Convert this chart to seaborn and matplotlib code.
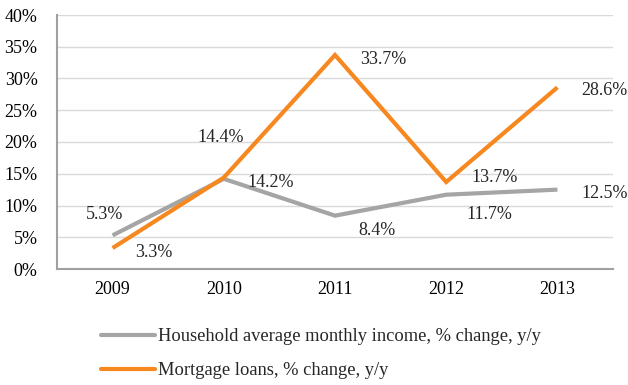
import matplotlib
matplotlib.use("Agg")
import matplotlib.pyplot as plt
import seaborn as sns
import pandas as pd
from matplotlib.ticker import FuncFormatter

years = ["2009", "2010", "2011", "2012", "2013"]
income = [5.3, 14.2, 8.4, 11.7, 12.5]
mortgage = [3.3, 14.4, 33.7, 13.7, 28.6]
income_name = "Household average monthly income, % change, y/y"
mortgage_name = "Mortgage loans, % change, y/y"
yticks = [0, 5, 10, 15, 20, 25, 30, 35, 40]

sns.set_theme(style="white")
plt.rcParams['font.family'] = ['Liberation Serif', 'DejaVu Serif']

df = pd.DataFrame({
    "year": years * 2,
    "value": income + mortgage,
    "series": [income_name] * len(years) + [mortgage_name] * len(years),
})

fig = plt.figure(figsize=(6.28, 3.85), dpi=100)
ax = fig.add_axes([57/628, 116/385, 556/628, 254/385])

palette = {income_name: "#a5a5a5", mortgage_name: "#f7871f"}
sns.lineplot(data=df, x="year", y="value", hue="series", palette=palette,
             linewidth=3.0, ax=ax, sort=False, legend=True)
for line in ax.lines:
    line.set_solid_capstyle("butt")
    line.set_solid_joinstyle("miter")

ax.set_xlim(-0.5, 4.5)
ax.set_ylim(0, 40)
ax.set_yticks(yticks)
ax.yaxis.set_major_formatter(FuncFormatter(lambda v, p: f"{int(v)}%"))
ax.grid(axis="y", color="#d9d9d9", linewidth=1)
ax.set_axisbelow(True)
for s in ["top", "right"]:
    ax.spines[s].set_visible(False)
for s in ["left", "bottom"]:
    ax.spines[s].set_color("#a0a0a0")
    ax.spines[s].set_linewidth(1.5)
ax.tick_params(axis="both", labelsize=13, colors="black", length=0)
ax.tick_params(axis="y", pad=14)
ax.tick_params(axis="x", pad=9)
ax.set_xlabel("")
ax.set_ylabel("")

# data labels (offsets in points)
inc_off = [(-6, 16.5), (34, -1.5), (30, -9.5), (31, -12.5), (34, -1)]
mort_off = [(30, -1.5), (-2, 30), (34.5, -1.5), (34.5, 4.5), (34, -1)]
for i in range(len(years)):
    ax.annotate(f"{income[i]}%", (i, income[i]), xytext=inc_off[i], textcoords="offset points",
                ha="center", va="center_baseline", fontsize=13)
    ax.annotate(f"{mortgage[i]}%", (i, mortgage[i]), xytext=mort_off[i], textcoords="offset points",
                ha="center", va="center_baseline", fontsize=13)

leg = ax.legend(loc="upper left", bbox_to_anchor=(0.066, -0.205), frameon=False,
                fontsize=13.3, handlelength=2.9, handletextpad=0.2, labelspacing=0.9,
                borderaxespad=0)
for h in leg.get_lines():
    h.set_linewidth(3)
    h.set_solid_capstyle("round")

fig.savefig("out.png", dpi=100)
